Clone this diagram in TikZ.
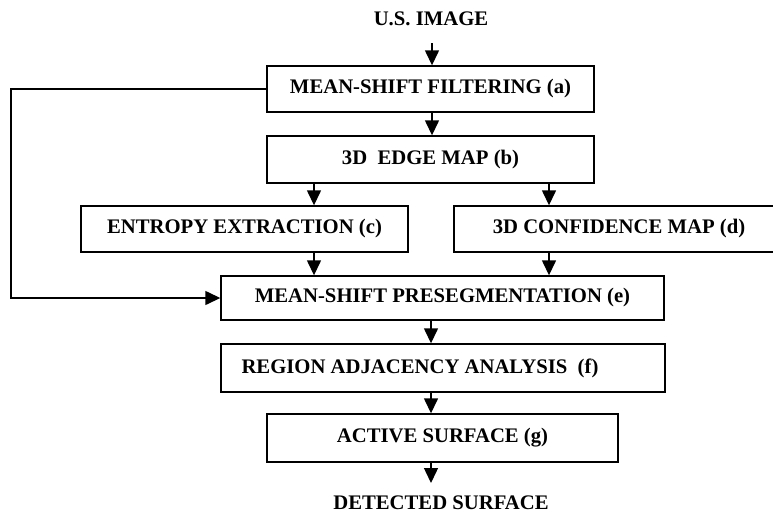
\documentclass[tikz,border=0pt]{standalone}
\usepackage{fontspec}
\setmainfont{Liberation Serif}
\usetikzlibrary{arrows.meta}
\tikzset{
  box/.style={draw, line width=1.4pt, inner sep=0pt, font=\bfseries\fontsize{20.7}{24}\selectfont},
  lbl/.style={inner sep=0pt, font=\bfseries\fontsize{20.7}{24}\selectfont},
  arr/.style={line width=1.4pt, -{Triangle[length=15pt,width=14pt]}},
  ln/.style={line width=1.4pt}
}
\begin{document}
\begin{tikzpicture}[x=1pt,y=-1pt]
\useasboundingbox (0,0) rectangle (773,517);
\node[lbl] (us) at (431,19) {U.S. IMAGE};
\node[box, minimum width=327pt, minimum height=46pt] (a) at (430.5,89) {MEAN-SHIFT FILTERING (a)};
\node[box, minimum width=327pt, minimum height=47pt] (b) at (430.5,159.5) {3D\ \ EDGE MAP (b)};
\node[box, minimum width=327pt, minimum height=46pt] (c) at (244.5,229) {ENTROPY EXTRACTION (c)};
\node[box, minimum width=330pt, minimum height=46pt] (d) at (619,229) {3D CONFIDENCE MAP (d)};
\node[box, minimum width=443pt, minimum height=44pt] (e) at (442.5,298) {MEAN-SHIFT PRESEGMENTATION (e)};
\node[box, minimum width=444pt, minimum height=48pt] (f) at (443,368) {};
\node[lbl] (ft) at (420,368) {REGION ADJACENCY ANALYSIS\ \ (f)};
\node[box, minimum width=351pt, minimum height=48pt] (g) at (442.5,438) {ACTIVE SURFACE (g)};
\node[lbl] (ds) at (441,503) {DETECTED SURFACE};
\coordinate (usend) at (432,43);
\coordinate (xa) at (432,0);
\coordinate (xl) at (314,0);
\coordinate (xr) at (549,0);
\coordinate (xm) at (431,0);
\coordinate (dsend) at (431,483);
\coordinate (fb) at (11,0);
\draw[arr] (usend) -- (a.north -| xa);
\draw[arr] (a.south -| xa) -- (b.north -| xa);
\draw[arr] (b.south -| xl) -- (c.north -| xl);
\draw[arr] (b.south -| xr) -- (d.north -| xr);
\draw[arr] (c.south -| xl) -- (e.north -| xl);
\draw[arr] (d.south -| xr) -- (e.north -| xr);
\draw[arr] (e.south -| xm) -- (f.north -| xm);
\draw[arr] (f.south -| xm) -- (g.north -| xm);
\draw[arr] (g.south -| xm) -- (dsend);
\draw[arr] (a.west) -- (a.west -| fb) -- (e.west -| fb) -- (e.west);
\end{tikzpicture}
\end{document}
